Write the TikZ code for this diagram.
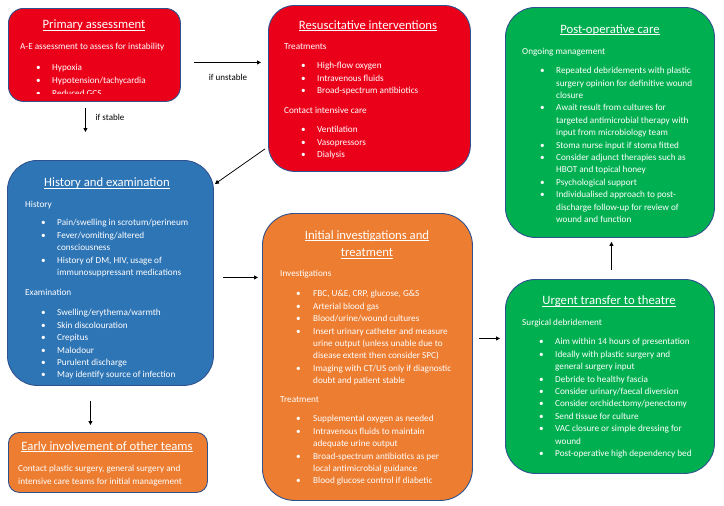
\documentclass[tikz,border=0pt]{standalone}
\usepackage{fontspec}
\setmainfont{Carlito}
\usetikzlibrary{arrows.meta,calc}
\definecolor{cred}{RGB}{235,0,25}
\definecolor{cblue}{RGB}{46,117,182}
\definecolor{corange}{RGB}{237,125,49}
\definecolor{cgreen}{RGB}{0,176,80}
\definecolor{cedge}{RGB}{47,82,143}
\newcommand{\myul}[1]{\leavevmode\setbox0=\hbox{#1}\rlap{\rule[-2pt]{\wd0}{0.6pt}}\box0}
\newcommand{\mylist}[2]{\begin{tabular}[t]{@{}p{#1}@{}l@{}}#2\end{tabular}}
\tikzset{
  box/.style={rectangle, draw=cedge, line width=0.9pt, inner sep=0pt, anchor=north west},
  ttl/.style={text=white, font=\fontsize{12.7}{18}\selectfont, anchor=base, inner sep=0pt, align=center},
  hdr/.style={text=white, font=\fontsize{9.2}{12.4}\selectfont, anchor=base west, inner sep=0pt},
  lst/.style={text=white, font=\fontsize{9.2}{12.4}\selectfont, anchor=base west, inner sep=0pt},
  arr/.style={-{Triangle[length=4pt,width=4pt]}, line width=0.75pt},
  lbl/.style={font=\fontsize{9}{10}\selectfont, inner sep=0pt}
}
\begin{document}
\begin{tikzpicture}[x=1pt,y=-1pt]
\useasboundingbox (0,0) rectangle (724,506);

% ---------- boxes ----------
\node[box, fill=cred, rounded corners=15pt, minimum width=172pt, minimum height=93pt] (prim) at (8,8) {};
\node[box, fill=cred, rounded corners=26pt, minimum width=202pt, minimum height=166pt] (resus) at (268,5) {};
\node[box, fill=cgreen, rounded corners=30pt, minimum width=209pt, minimum height=230pt] (postop) at (505,7) {};
\node[box, fill=cblue, rounded corners=30pt, minimum width=206pt, minimum height=225pt] (hist) at (7,160) {};
\node[box, fill=corange, rounded corners=11pt, minimum width=199pt, minimum height=60pt] (early) at (8,432) {};
\node[box, fill=corange, rounded corners=32pt, minimum width=210pt, minimum height=287pt] (inv) at (262,213) {};
\node[box, fill=cgreen, rounded corners=30pt, minimum width=209pt, minimum height=194pt] (urgent) at (505,279) {};

% ---------- Primary assessment ----------
\node[ttl] (primT) at (94,28.5) {\myul{Primary assessment}};
\node[hdr] (primH) at (20,49.8) {A-E assessment to assess for instability};
\begin{scope}
\clip (10,10) rectangle (178,93.5);
\node[lst] (primL) at (36,70.5) {\mylist{16pt}{•&Hypoxia\\[0.6pt] •&Hypotension/tachycardia\\[0.6pt] •&Reduced GCS\\}};
\end{scope}

% ---------- Resuscitative interventions ----------
\node[ttl] (resT) at (368,29) {\myul{Resuscitative interventions}};
\node[hdr] (resH1) at (284,49.8) {Treatments};
\node[lst] (resL1) at (301,68.8) {\mylist{16pt}{•&High-flow oxygen\\ •&Intravenous fluids\\ •&Broad-spectrum antibiotics\\}};
\node[hdr] (resH2) at (284,113.8) {Contact intensive care};
\node[lst] (resL2) at (301,132.8) {\mylist{16pt}{•&Ventilation\\ •&Vasopressors\\ •&Dialysis\\}};

% ---------- Post-operative care ----------
\node[ttl] (postT) at (610,33) {\myul{Post-operative care}};
\node[hdr] (postH) at (522,54.8) {Ongoing management};
\node[lst] (postL) at (540,73.8) {\mylist{16pt}{%
•&Repeated debridements with plastic\\
 &surgery opinion for definitive wound\\
 &closure\\
•&Await result from cultures for\\
 &targeted antimicrobial therapy with\\
 &input from microbiology team\\
•&Stoma nurse input if stoma fitted\\
•&Consider adjunct therapies such as\\
 &HBOT and topical honey\\
•&Psychological support\\
•&Individualised approach to post-\\
 &discharge follow-up for review of\\
 &wound and function\\}};

% ---------- History and examination ----------
\node[ttl] (histT) at (107,186.5) {\myul{History and examination}};
\node[hdr] (histH1) at (25,207.8) {History};
\node[lst] (histL1) at (41,225.8) {\mylist{16pt}{%
•&Pain/swelling in scrotum/perineum\\
•&Fever/vomiting/altered\\
 &consciousness\\
•&History of DM, HIV, usage of\\
 &immunosuppressant medications\\}};
\node[hdr] (histH2) at (25,295.8) {Examination};
\node[lst] (histL2) at (41,315.8) {\mylist{16pt}{%
•&Swelling/erythema/warmth\\
•&Skin discolouration\\
•&Crepitus\\
•&Malodour\\
•&Purulent discharge\\
•&May identify source of infection\\}};

% ---------- Early involvement ----------
\node[ttl] (earlyT) at (107,450) {\myul{Early involvement of other teams}};
\node[lst] (earlyL) at (18,471.8) {\mylist{0pt}{%
&Contact plastic surgery, general surgery and\\
&intensive care teams for initial management\\}};

% ---------- Initial investigations ----------
\node[ttl] (invT1) at (367,239) {\myul{Initial investigations and}};
\node[ttl] (invT2) at (367,256.5) {\myul{treatment}};
\node[hdr] (invH1) at (280,276.8) {Investigations};
\node[lst] (invL1) at (296,296.8) {\mylist{17pt}{%
•&FBC, U\&E, CRP, glucose, G\&S\\
•&Arterial blood gas\\
•&Blood/urine/wound cultures\\
•&Insert urinary catheter and measure\\
 &urine output (unless unable due to\\
 &disease extent then consider SPC)\\
•&Imaging with CT/US only if diagnostic\\
 &doubt and patient stable\\}};
\node[hdr] (invH2) at (280,402.8) {Treatment};
\node[lst] (invL2) at (296,421.8) {\mylist{17pt}{%
•&Supplemental oxygen as needed\\
•&Intravenous fluids to maintain\\
 &adequate urine output\\
•&Broad-spectrum antibiotics as per\\
 &local antimicrobial guidance\\
•&Blood glucose control if diabetic\\}};

% ---------- Urgent transfer ----------
\node[ttl] (urgT) at (609,304.5) {\myul{Urgent transfer to theatre}};
\node[hdr] (urgH) at (522,325.8) {Surgical debridement};
\node[lst] (urgL) at (539,344.8) {\mylist{16pt}{%
•&Aim within 14 hours of presentation\\
•&Ideally with plastic surgery and\\
 &general surgery input\\
•&Debride to healthy fascia\\
•&Consider urinary/faecal diversion\\
•&Consider orchidectomy/penectomy\\
•&Send tissue for culture\\
•&VAC closure or simple dressing for\\
 &wound\\
•&Post-operative high dependency bed\\}};

% ---------- connectors ----------
\draw[arr] ($(prim.east)+(13,7.5)$) -- ($(prim.east -| resus.west)+(-7,7.5)$);
\node[lbl] (lunst) at (228,77) {if unstable};
\draw[arr] ($(prim.south)+(-9,6)$) -- ($(hist.north)+(-25,-28)$);
\node[lbl] (lstab) at (110,117) {if stable};
\draw[arr] ($(resus.south west)+(-3,-23)$) -- ($(hist.north east)+(1,24)$);
\draw[arr] ($(hist.east)+(9,4.5)$) -- ($(hist.east -| inv.west)+(-4,4.5)$);
\draw[arr] ($(hist.south)+(-20,15)$) -- ($(early.north)+(-17.5,-7)$);
\draw[arr] ($(inv.east)+(6,-18.5)$) -- ($(inv.east -| urgent.west)+(-5,-18.5)$);
\draw[arr] ($(urgent.north)+(1.5,-9)$) -- ($(postop.south)+(1.5,4)$);
\end{tikzpicture}
\end{document}
